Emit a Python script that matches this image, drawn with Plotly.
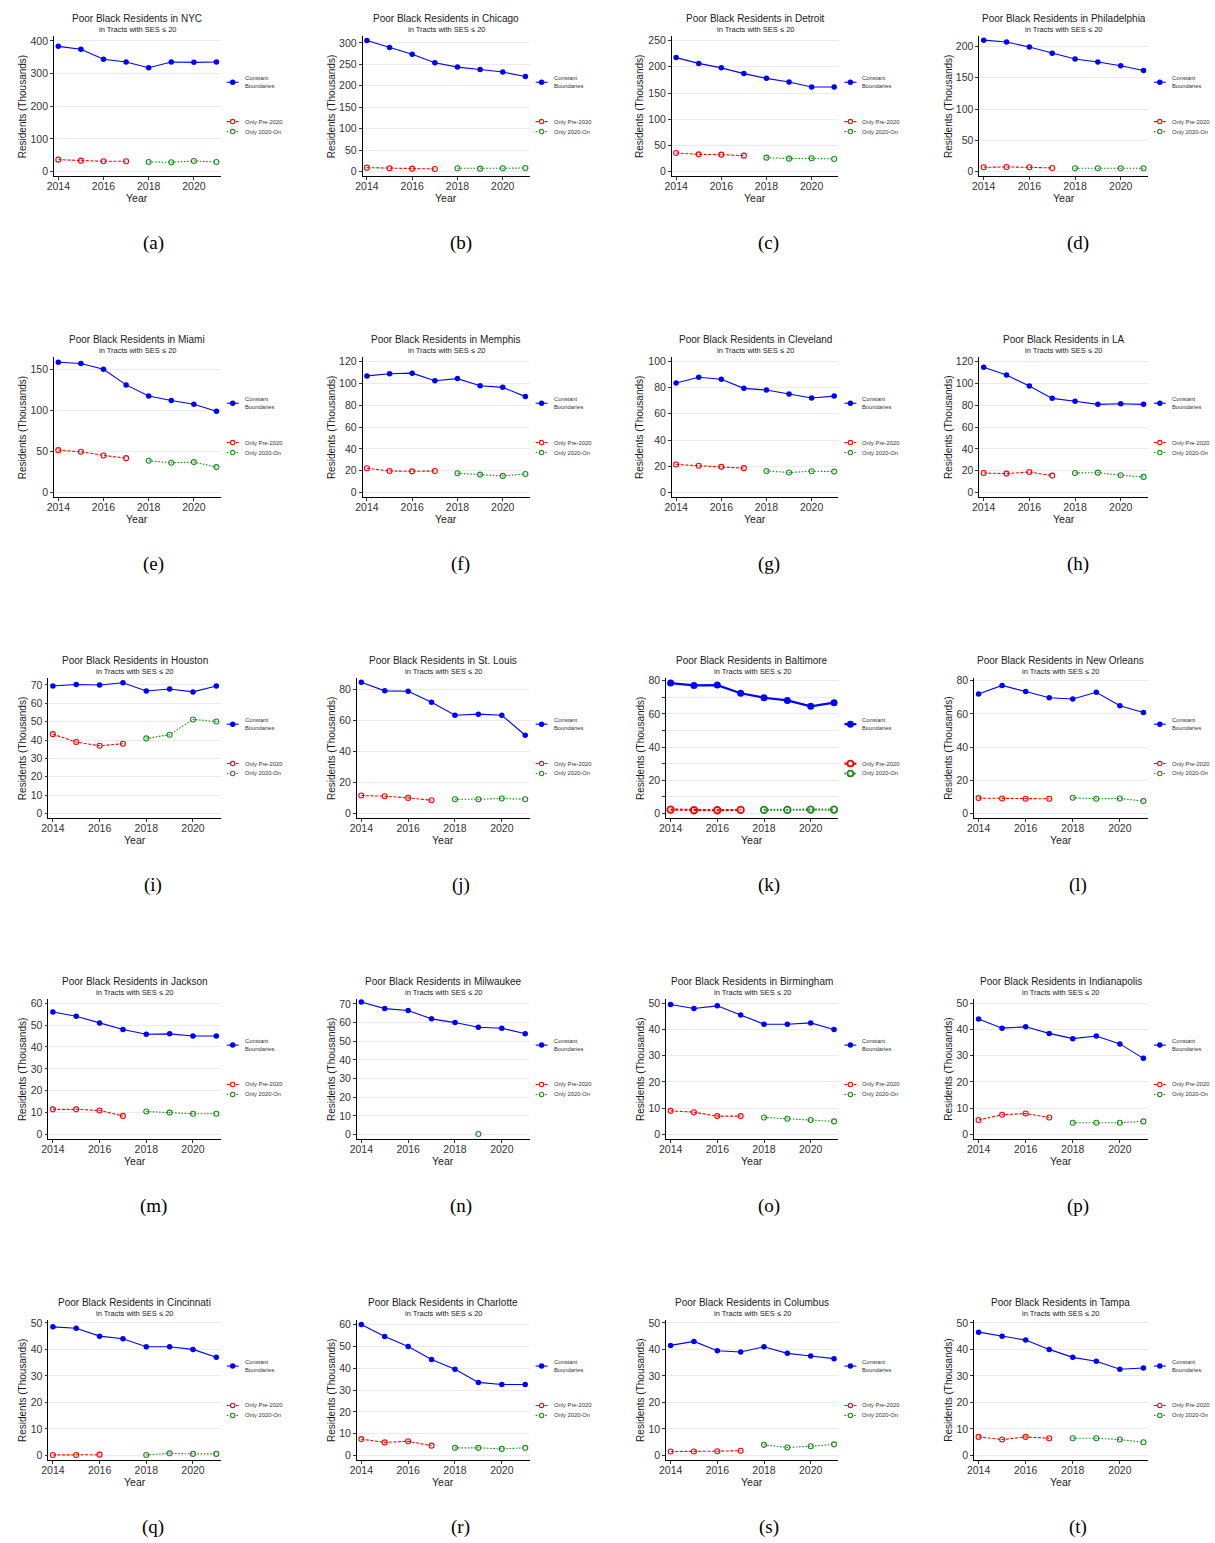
import plotly.graph_objects as go

W, H = 1215, 1543

years = [2014, 2015, 2016, 2017, 2018, 2019, 2020, 2021]
pre_years = [2014, 2015, 2016, 2017]
post_years = [2018, 2019, 2020, 2021]
x_ticks = [2014, 2016, 2018, 2020]

cities = ["NYC", "Chicago", "Detroit", "Philadelphia",
          "Miami", "Memphis", "Cleveland", "LA",
          "Houston", "St. Louis", "Baltimore", "New Orleans",
          "Jackson", "Milwaukee", "Birmingham", "Indianapolis",
          "Cincinnati", "Charlotte", "Columbus", "Tampa"]
letters = list("abcdefghijklmnopqrst")

# Constant boundaries (thousands), 2014-2021
constant_boundaries = [
    [383.5, 374.5, 344.0, 335.5, 318.0, 335.5, 334.5, 335.5],
    [305.5, 289.0, 273.5, 253.5, 243.5, 238.0, 232.0, 221.5],
    [217.5, 206.5, 198.0, 187.0, 178.0, 171.0, 161.5, 161.5],
    [210.0, 207.0, 199.0, 189.0, 180.0, 175.0, 169.0, 161.5],
    [158.5, 157.0, 150.0, 131.0, 117.5, 112.0, 107.5, 99.0],
    [107.0, 109.0, 109.5, 102.5, 104.5, 98.0, 96.5, 88.0],
    [83.5, 87.8, 86.3, 79.4, 78.1, 75.1, 72.0, 73.5],
    [115.0, 107.8, 97.7, 86.4, 83.7, 80.9, 81.5, 80.9],
    [69.4, 70.2, 70.0, 71.2, 66.7, 67.8, 66.2, 69.4],
    [84.7, 79.1, 78.9, 71.8, 63.4, 64.1, 63.4, 50.5],
    [78.6, 77.2, 77.4, 72.5, 69.8, 68.2, 64.6, 66.8],
    [72.1, 77.2, 73.5, 69.8, 69.0, 73.1, 65.0, 60.9],
    [56.0, 54.0, 51.0, 48.0, 45.8, 46.0, 45.0, 45.0],
    [71.0, 67.5, 66.5, 62.0, 60.0, 57.5, 57.0, 54.0],
    [49.5, 48.0, 49.0, 45.5, 42.0, 42.0, 42.5, 40.0],
    [44.0, 40.5, 41.0, 38.5, 36.5, 37.5, 34.5, 29.0],
    [48.5, 48.0, 45.0, 44.0, 41.0, 41.0, 40.0, 37.0],
    [60.0, 54.5, 50.0, 44.0, 39.5, 33.5, 32.5, 32.5],
    [41.5, 43.0, 39.5, 39.0, 41.0, 38.5, 37.5, 36.5],
    [46.5, 45.0, 43.5, 40.0, 37.0, 35.5, 32.5, 33.0],
]

# Only pre-2020 tracts, 2014-2017
only_pre2020 = [
    [36.7, 33.7, 31.6, 31.6],
    [9.3, 7.8, 7.0, 6.2],
    [35.6, 33.0, 32.4, 30.5],
    [6.9, 7.5, 6.9, 5.9],
    [51.6, 49.6, 45.2, 41.9],
    [22.3, 19.8, 19.5, 19.8],
    [21.4, 20.4, 19.6, 18.6],
    [18.0, 17.4, 18.9, 15.6],
    [43.2, 38.9, 36.9, 38.0],
    [11.6, 11.2, 10.1, 8.6],
    [2.4, 2.0, 2.0, 2.2],
    [9.3, 9.1, 8.9, 8.9],
    [11.5, 11.5, 11.0, 8.5],
    [None, None, None, None],
    [9.0, 8.5, 7.0, 7.0],
    [5.5, 7.5, 8.0, 6.5],
    [0.2, 0.2, 0.3, None],
    [7.5, 6.0, 6.5, 4.5],
    [1.5, 1.5, 1.6, 1.8],
    [7.0, 6.0, 7.0, 6.5],
]

# Only 2020-on tracts, 2018-2021
only_2020on = [
    [29.6, 28.6, 32.7, 29.6],
    [7.8, 7.0, 7.8, 8.5],
    [26.7, 24.8, 25.4, 24.2],
    [5.3, 5.3, 5.3, 5.3],
    [38.7, 36.3, 37.1, 31.0],
    [17.7, 16.5, 15.3, 17.1],
    [16.5, 15.3, 16.3, 16.0],
    [18.0, 18.3, 15.9, 14.4],
    [40.9, 42.9, 51.2, 50.1],
    [9.2, 9.2, 9.7, 9.2],
    [2.2, 2.2, 2.4, 2.4],
    [9.5, 8.9, 9.1, 7.5],
    [10.5, 10.0, 9.5, 9.5],
    [None, 0.3, None, None],
    [6.5, 6.0, 5.5, 5.0],
    [4.5, 4.5, 4.5, 5.0],
    [0.2, 0.8, 0.6, 0.6],
    [3.5, 3.5, 3.0, 3.5],
    [4.0, 3.0, 3.5, 4.2],
    [6.5, 6.5, 6.0, 5.0],
]

# y-axis upper limit and tick step per panel
y_top = [414, 315, 258, 216, 164.5, 124, 103, 124,
         73.6, 87.2, 81.5, 81.5, 61.8, 72.5, 51.5, 51.5,
         51.0, 62.0, 51.0, 51.0]
y_step = [100, 50, 50, 50, 50, 20, 20, 20,
          10, 20, 20, 20, 10, 10, 10, 10,
          10, 10, 10, 10]

# ---------- styling / layout constants ----------
FONT = "Liberation Sans"
BLUE = "#0000FF"
RED = "#FF0000"
GREEN = "#1E8B1E"
GRID = "#EBEBEB"

col_right = [215.0, 525.7, 836.3, 1147.5]
col_left3 = [47.3, 357.7, 668.7, 978.0]
col_left2 = [41.7, 351.9, 663.0, 972.7]
row_top = [32.5 + 322 * r for r in range(5)]
row_bot = [172.8 + 322 * r for r in range(5)]
cap_x = [147, 456.5, 766, 1077]
cap_y = [240 + 322 * r for r in range(5)]
ytitle_x = [15 + 310.7 * c for c in range(4)]


def px(x):
    return x / W


def py(y):
    return 1 - y / H


fig = go.Figure()
annotations = []
shapes = []
layout_axes = {}

for i, city in enumerate(cities):
    r, c = divmod(i, 4)
    thick = city == "Baltimore"
    lw = 2.2 if thick else 1.1
    ms_fill = 7 if thick else 5.5
    ms_open = 6.5 if thick else 5
    mlw = 1.8 if thick else 1.1

    L = col_left3[c] if y_top[i] >= 100 else col_left2[c]
    R = col_right[c]
    T, B = row_top[r], row_bot[r]
    xa = "x" if i == 0 else f"x{i+1}"
    ya = "y" if i == 0 else f"y{i+1}"
    xkey = "xaxis" if i == 0 else f"xaxis{i+1}"
    ykey = "yaxis" if i == 0 else f"yaxis{i+1}"

    fig.add_trace(go.Scatter(
        x=years, y=constant_boundaries[i], xaxis=xa, yaxis=ya,
        mode="lines+markers", line=dict(color=BLUE, width=lw),
        marker=dict(color=BLUE, size=ms_fill), showlegend=False,
        cliponaxis=False))
    fig.add_trace(go.Scatter(
        x=pre_years, y=only_pre2020[i], xaxis=xa, yaxis=ya,
        mode="lines+markers", line=dict(color=RED, width=lw, dash="3px,1.6px"),
        marker=dict(color=RED, size=ms_open, symbol="circle-open",
                    line=dict(width=mlw, color=RED)),
        showlegend=False, cliponaxis=False))
    fig.add_trace(go.Scatter(
        x=post_years, y=only_2020on[i], xaxis=xa, yaxis=ya,
        mode="lines+markers", line=dict(color=GREEN, width=lw, dash="1.6px,1.6px"),
        marker=dict(color=GREEN, size=ms_open, symbol="circle-open",
                    line=dict(width=mlw, color=GREEN)),
        showlegend=False, cliponaxis=False))

    layout_axes[xkey] = dict(
        domain=[px(L), px(R)], anchor=ya, range=[2013.81, 2021.19],
        tickmode="array", tickvals=x_ticks, ticktext=[str(t) for t in x_ticks],
        showline=True, linecolor="black", linewidth=0.8,
        ticks="outside", ticklen=3, tickwidth=0.8, tickcolor="#333333",
        ticklabelstandoff=-3,
        tickfont=dict(family=FONT, size=10.5, color="#333333"),
        showgrid=False, zeroline=False, fixedrange=True)
    yax = dict(
        domain=[py(B), py(T)], anchor=xa,
        range=[-0.034 * y_top[i], y_top[i]],
        tickmode="linear", tick0=0, dtick=y_step[i],
        showline=True, linecolor="black", linewidth=0.8,
        ticks="outside", ticklen=3, tickwidth=0.8, tickcolor="#333333",
        tickfont=dict(family=FONT, size=10.5, color="#333333"),
        showgrid=True, gridcolor=GRID, gridwidth=1,
        zeroline=False, fixedrange=True)
    if thick:
        yax["minor"] = dict(dtick=y_step[i] / 2, showgrid=True, gridcolor=GRID,
                            ticks="outside", ticklen=3, tickcolor="#333333")
    layout_axes[ykey] = yax

    cx = (L + R) / 2
    annotations.append(dict(
        x=px(cx), y=py(T - 17.5), xref="paper", yref="paper",
        text=f"Poor Black Residents in {city}", showarrow=False,
        xanchor="center", yanchor="middle",
        font=dict(family=FONT, size=10, color="#1a1a1a")))
    annotations.append(dict(
        x=px(cx), y=py(T - 6.5), xref="paper", yref="paper",
        text="in Tracts with SES ≤ 20", showarrow=False,
        xanchor="center", yanchor="middle",
        font=dict(family=FONT, size=7.5, color="#1a1a1a")))
    annotations.append(dict(
        x=px(ytitle_x[c]), y=py((T + B) / 2), xref="paper", yref="paper",
        text="Residents (Thousands)", showarrow=False, textangle=-90,
        xanchor="center", yanchor="middle",
        font=dict(family=FONT, size=10, color="#1a1a1a")))
    annotations.append(dict(
        x=px(cx), y=py(B + 22), xref="paper", yref="paper",
        text="Year", showarrow=False, xanchor="center", yanchor="middle",
        font=dict(family=FONT, size=10.5, color="#1a1a1a")))
    annotations.append(dict(
        x=px(cap_x[c]), y=py(cap_y[r]), xref="paper", yref="paper",
        text=f"({letters[i]})", showarrow=False, xanchor="center", yanchor="middle",
        font=dict(family="Liberation Serif", size=19, color="black")))

    # legend keys
    kx0, kx1, kxm, tx = R + 6, R + 18, R + 12, R + 22
    entries = [
        (T + 46, BLUE, "solid", True, "Constant<br>Boundaries"),
        (T + 85.5, RED, "3px,1.6px", False, "Only Pre-2020"),
        (T + 95.5, GREEN, "1.6px,1.6px", False, "Only 2020-On"),
    ]
    for (ky, col, dash, filled, label) in entries:
        shapes.append(dict(type="line", xref="paper", yref="paper",
                           x0=px(kx0), x1=px(kx1), y0=py(ky), y1=py(ky),
                           line=dict(color=col, width=lw, dash=dash)))
        rad = (ms_fill / 2) if filled else (ms_open / 2 - 0.3)
        shapes.append(dict(type="circle", xref="paper", yref="paper",
                           x0=px(kxm - rad), x1=px(kxm + rad),
                           y0=py(ky + rad), y1=py(ky - rad),
                           fillcolor=col if filled else "white",
                           line=dict(color=col, width=0 if filled else mlw)))
        annotations.append(dict(
            x=px(tx), y=py(ky), xref="paper", yref="paper",
            text=label, showarrow=False, xanchor="left", yanchor="middle",
            align="left",
            font=dict(family=FONT, size=5.8, color="#333333")))

fig.update_layout(
    width=W, height=H, autosize=False,
    margin=dict(l=0, r=0, t=0, b=0),
    paper_bgcolor="white", plot_bgcolor="white",
    showlegend=False,
    annotations=annotations, shapes=shapes,
    **layout_axes)

fig.write_html("out.html", include_plotlyjs=True, config={"displayModeBar": False})
